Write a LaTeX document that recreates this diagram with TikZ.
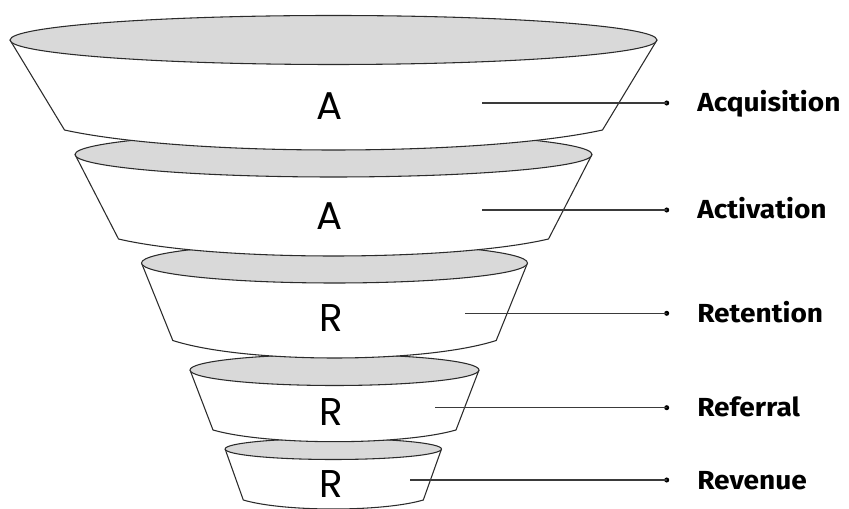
\documentclass[tikz,border=0pt]{standalone}
\usepackage{fontspec}
\newfontfamily\bigfont{Poppins}
\newfontfamily\lblfont{Fira Sans}[FakeStretch=1.075]
\definecolor{capgray}{HTML}{D9D9D9}
\definecolor{outl}{HTML}{2B2B2B}
\definecolor{linegray}{HTML}{3A3A3A}
\tikzset{
  bodyfill/.style={fill=white},
  bodyline/.style={draw=outl, line width=0.8pt, line join=miter},
  capell/.style={fill=capgray, draw=outl, line width=0.8pt},
  letter/.style={font=\bigfont\fontsize{29}{29}\selectfont, text=black, inner sep=0pt},
  lbl/.style={font=\lblfont\bfseries\fontsize{19.6}{20}\selectfont, text=black, anchor=base west, inner sep=0pt},
  conn/.style={draw=linegray, line width=0.9pt},
  dotn/.style={circle, fill=black, inner sep=0pt, minimum size=3.8pt}
}
% #1 cx, #2 ellipse y, #3 rx, #4 ry, #5 bottom corner y, #6 bottom half width, #7 sag
\newcommand\fseg[7]{%
  \path[bodyfill] (#1-#3,#2) -- (#1-#6,#5)
    .. controls (#1-0.55*#6,#5+4/3*#7) and (#1+0.55*#6,#5+4/3*#7) .. (#1+#6,#5)
    -- (#1+#3,#2) -- cycle;
  \draw[bodyline] (#1-#3,#2) -- (#1-#6,#5)
    .. controls (#1-0.55*#6,#5+4/3*#7) and (#1+0.55*#6,#5+4/3*#7) .. (#1+#6,#5)
    -- (#1+#3,#2);
  \filldraw[capell] (#1,#2) ellipse [x radius=#3, y radius=#4];
}
\begin{document}
\begin{tikzpicture}[x=0.75pt, y=-0.75pt]
\useasboundingbox (0,0) rectangle (849,509);
% funnel, smallest first
\fseg{333.3}{449}{108.2}{10.5}{500}{90}{9}
\fseg{334.5}{370}{144.5}{15.5}{430}{121.5}{11.7}
\fseg{334.5}{263}{193}{20}{340.5}{161.7}{17.5}
\fseg{333.5}{154.5}{258.5}{22.5}{239}{215}{17}
\fseg{333.5}{40}{323.5}{24.5}{130}{269}{20}
% letters
\node[letter] (L1) at (330,106.3) {A};
\node[letter] (L2) at (330,216) {A};
\node[letter] (L3) at (331,318) {R};
\node[letter] (L4) at (331,411.7) {R};
\node[letter] (L5) at (331,484) {R};
% connectors
\coordinate (c1) at (482.3,103);
\coordinate (c2) at (482.3,210);
\coordinate (c3) at (465,313.3);
\coordinate (c4) at (435,407.7);
\coordinate (c5) at (410,480);
\node[dotn] (d1) at (666.7,103) {};
\node[dotn] (d2) at (666.7,210) {};
\node[dotn] (d3) at (666.7,313.3) {};
\node[dotn] (d4) at (666.7,407.7) {};
\node[dotn] (d5) at (666.7,480) {};
\draw[conn] (c1) -- (d1.center);
\draw[conn] (c2) -- (d2.center);
\draw[conn] (c3) -- (d3.center);
\draw[conn] (c4) -- (d4.center);
\draw[conn] (c5) -- (d5.center);
% labels
\node[lbl] (t1) at (697,112) {Acquisition};
\node[lbl] (t2) at (697,219) {Activation};
\node[lbl] (t3) at (697,322.3) {Retention};
\node[lbl] (t4) at (697,416.7) {Referral};
\node[lbl] (t5) at (697,489) {Revenue};
\end{tikzpicture}
\end{document}
